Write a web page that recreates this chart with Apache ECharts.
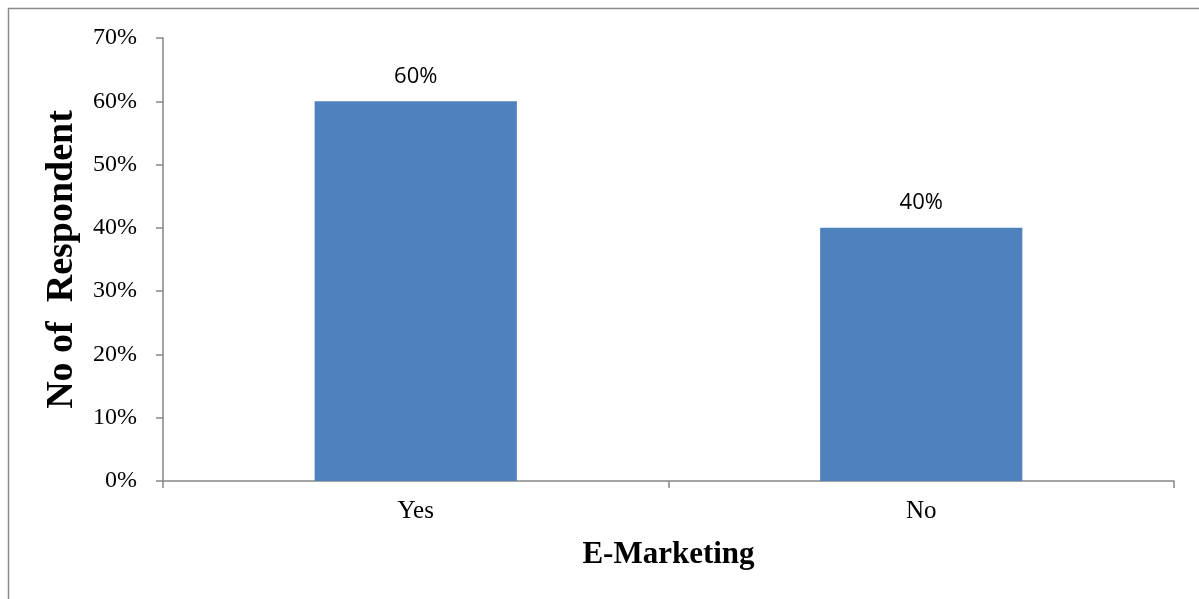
<!DOCTYPE html>
<html>
<head>
<meta charset="utf-8">
<script src="https://cdn.jsdelivr.net/npm/echarts@6/dist/echarts.min.js"></script>
<style>
  html, body { margin: 0; padding: 0; background: #fff; }
  #chart { width: 1199px; height: 599px; }
</style>
</head>
<body>
<div id="chart"></div>
<script>
// E-Marketing survey responses
const categories = ['Yes', 'No'];
const shares = [60, 40];          // percent of respondents
const yTicks = [0, 10, 20, 30, 40, 50, 60, 70];

const chart = echarts.init(document.getElementById('chart'));
const axisGray = '#868686';
const serif = '"Liberation Serif", "Times New Roman", serif';

chart.setOption({
  animation: false,
  graphic: [{
    type: 'rect',
    shape: { x: 8.5, y: 8.5, width: 1200, height: 600 },
    style: { fill: 'none', stroke: '#8c8c8c', lineWidth: 1.5 },
    silent: true
  }],
  grid: { left: 163, right: 25, top: 38, bottom: 118 },
  xAxis: {
    type: 'category',
    data: categories,
    axisLine: { lineStyle: { color: axisGray, width: 1.5 } },
    axisTick: { show: true, alignWithLabel: false, length: 7, lineStyle: { color: axisGray, width: 1.5 } },
    axisLabel: { color: '#000', fontFamily: serif, fontSize: 25, margin: 18 },
    name: 'E-Marketing',
    nameLocation: 'middle',
    nameGap: 58,
    nameTextStyle: { color: '#000', fontFamily: serif, fontSize: 31, fontWeight: 'bold' }
  },
  yAxis: {
    type: 'value',
    min: yTicks[0],
    max: yTicks[yTicks.length - 1],
    interval: 10,
    splitLine: { show: false },
    axisLine: { show: true, lineStyle: { color: axisGray, width: 1.5 } },
    axisTick: { show: true, length: 7, lineStyle: { color: axisGray, width: 1.5 } },
    axisLabel: { color: '#000', fontFamily: serif, fontSize: 24, margin: 26, formatter: '{value}%' },
    name: 'No of  Respondent',
    nameLocation: 'middle',
    nameGap: 82,
    nameTextStyle: { color: '#000', fontFamily: serif, fontSize: 38, fontWeight: 'bold' }
  },
  series: [{
    type: 'bar',
    data: shares,
    barWidth: '40%',
    itemStyle: { color: '#4f81bd' },
    label: {
      show: true,
      position: 'top',
      distance: 14,
      color: '#000',
      fontFamily: '"Open Sans", "Liberation Sans", sans-serif',
      fontSize: 22,
      formatter: p => p.value + '%'
    }
  }]
});
</script>
</body>
</html>
